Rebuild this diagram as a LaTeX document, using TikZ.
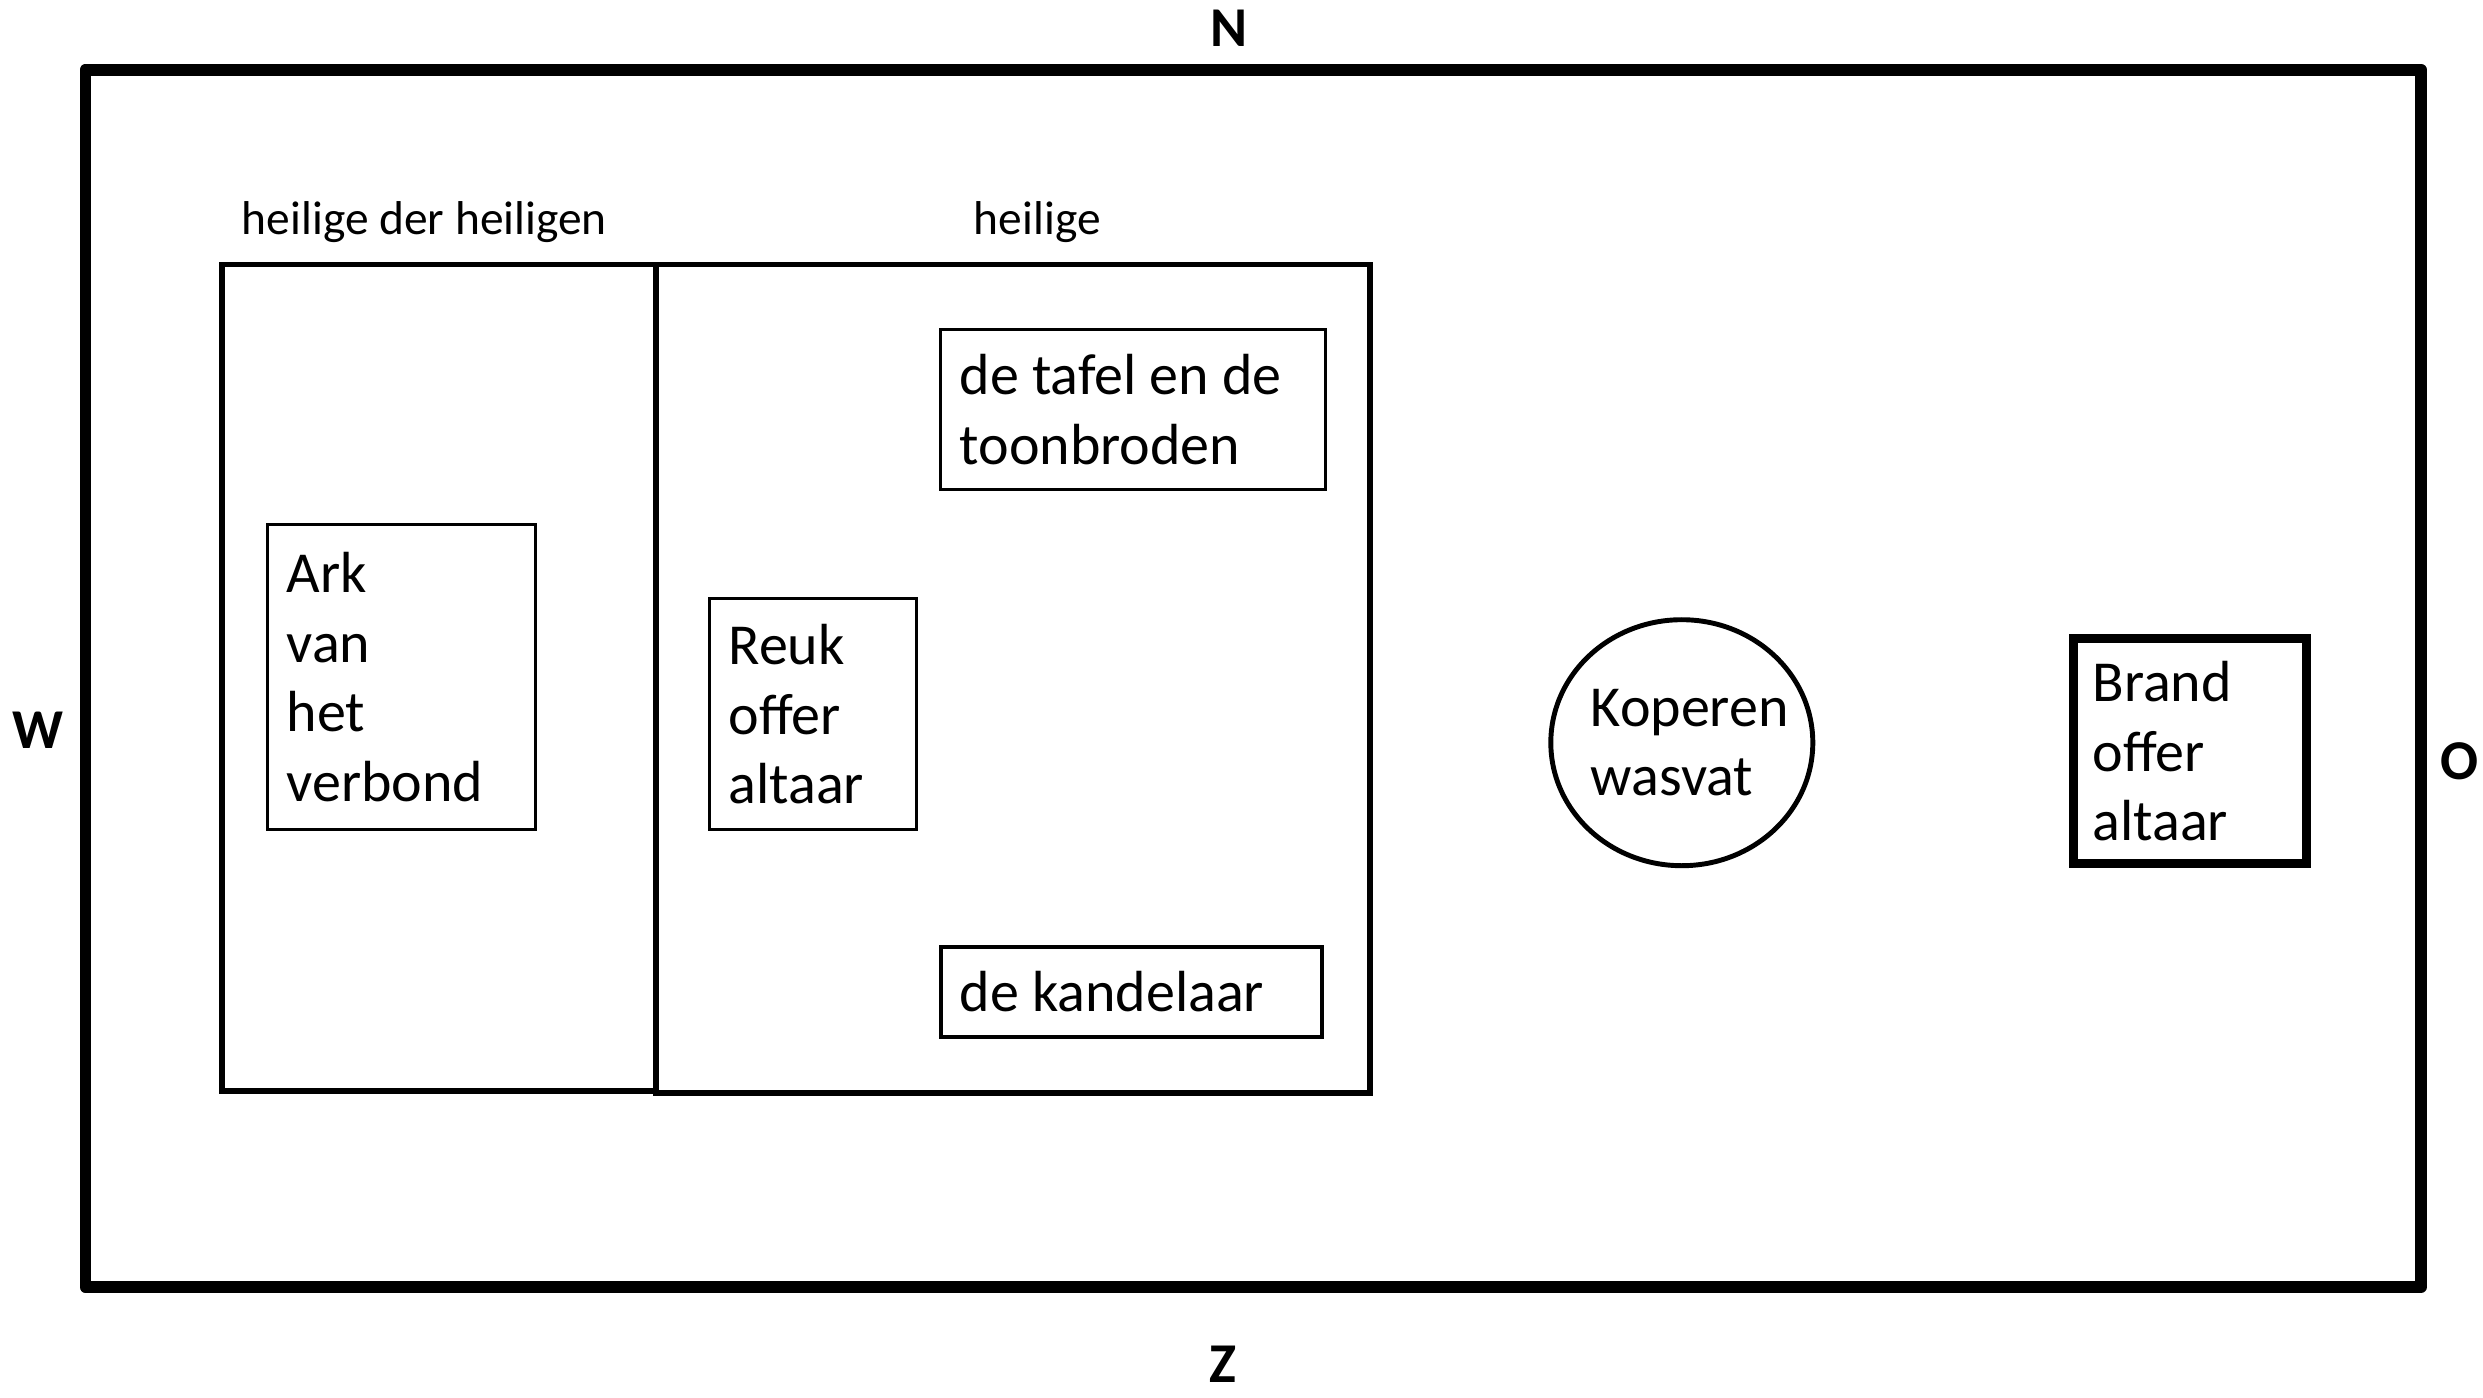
\documentclass[tikz,border=0pt]{standalone}
\usepackage{fontspec}
\setmainfont{Carlito}
\usepackage{tikz}
\usetikzlibrary{shapes.geometric}

\tikzset{
  room/.style={line width=1.7pt},
  item/.style={draw, rectangle, line width=0.85pt, align=flush left, inner xsep=0.19cm, inner ysep=0pt,
    font=\fontsize{16.5}{19.8}\selectfont},
  compass/.style={font=\fontsize{16}{19}\selectfont\bfseries},
  roomlabel/.style={font=\fontsize{13.5}{16}\selectfont}
}

\begin{document}
\begin{tikzpicture}
	\useasboundingbox (0,0) rectangle (24.83,-13.97);
	% voorhof
	\draw[line width=3.4pt, line join=round] (0.855,-0.697) rectangle (24.21,-12.87);
	% tabernakel
	\draw[room] (2.217,-2.645) rectangle (6.556,-10.91);
	\draw[room] (6.556,-2.645) rectangle (13.698,-10.927);
	\node[roomlabel] (hdh) at (4.244,-2.217) {heilige der heiligen};
	\node[roomlabel] (hl) at (10.373,-2.217) {heilige};
	% windrichtingen
	\node[compass] (N) at (12.29,-0.285) {N};
	\node[compass] (Z) at (12.225,-13.64) {Z};
	\node[compass] (W) at (0.38,-7.30) {W};
	\node[compass] (O) at (24.59,-7.617) {O};
	% voorwerpen
	\node[item, minimum width=2.677cm, minimum height=3.056cm, text width=2.297cm] (ark) at (4.015,-6.77) {Ark\\van\\het\\verbond};
	\node[item, minimum width=2.074cm, minimum height=2.312cm, text width=1.694cm] (reuk) at (8.132,-7.142) {Reuk\\offer\\altaar};
	\node[item, minimum width=3.848cm, minimum height=1.599cm, text width=3.468cm] (tafel) at (11.331,-4.094) {de tafel en de\\toonbroden};
	\node[item, line width=1.1pt, minimum width=3.816cm, minimum height=0.903cm, text width=3.436cm] (kandelaar) at (11.315,-9.92) {de kandelaar};
	\node[draw, ellipse, line width=1.4pt, minimum width=2.62cm, minimum height=2.46cm, inner xsep=-0.15cm, inner ysep=0pt, align=left,
		font=\fontsize{16.5}{19.8}\selectfont] (wasvat) at (16.818,-7.427) {\hspace*{0.16cm}Koperen\\\hspace*{0.16cm}wasvat};
	\node[item, line width=2.6pt, minimum width=2.33cm, minimum height=2.25cm, text width=1.95cm] (brand) at (21.90,-7.514) {Brand\\offer\\altaar};
\end{tikzpicture}
\end{document}
